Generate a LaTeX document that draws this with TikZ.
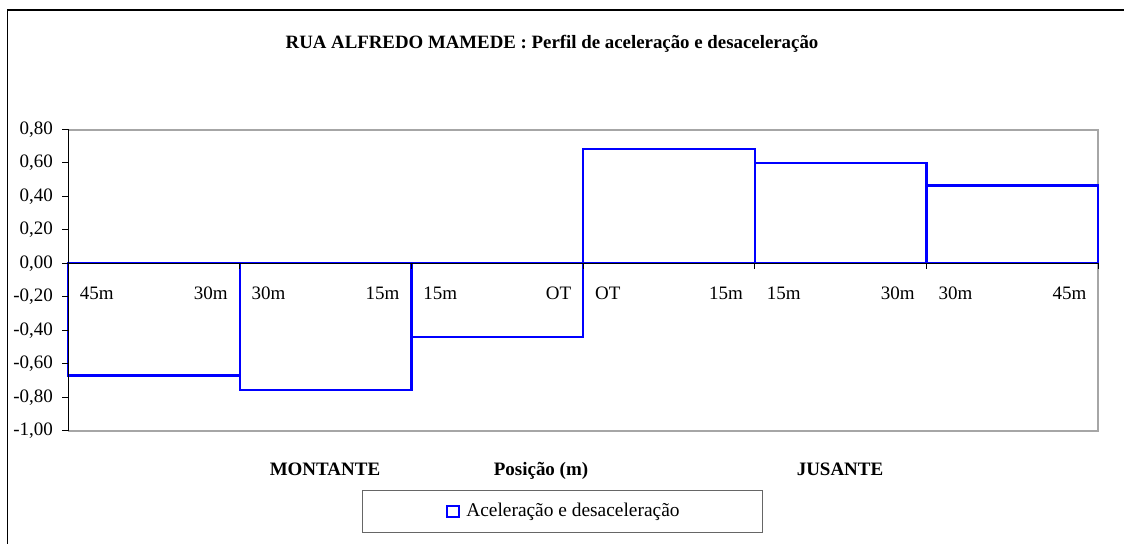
\documentclass[tikz,border=0pt]{standalone}
\usepackage{fontspec}
\setmainfont{Liberation Serif}

\begin{document}
\begin{tikzpicture}[x=0.025cm, y=-0.025cm, font=\fontsize{13.5}{16}\selectfont]
\useasboundingbox (0,0) rectangle (1124,544);

% Outer frame (cut at right and bottom)
\draw[line width=0.9pt] (7.5,544) -- (7.5,10) -- (1124,10);

% Title
\node[anchor=base, font=\fontsize{13.4}{16}\selectfont\bfseries] (title) at (552,49)
    {RUA ALFREDO MAMEDE : Perfil de aceleração e desaceleração};

% Plot area
\draw[gray!70, line width=0.8pt] (68,130) -- (1098,130) -- (1098,431) -- (68,431);

\begin{scope}[shift={(68,263.3)}, x=4.2917cm, y=4.1875cm]
% Data: one box per stretch
\foreach \v [count=\i from 0] in {-0.67,-0.755,-0.438,0.68,0.60,0.465}
    \draw[blue, line width=1.6pt] (\i,0) rectangle (\i+1,\v);

% Value axis
\draw[line width=0.6pt] (0,-1) -- (0,0.8);
\foreach \t/\lab in {0.8/0{,}80, 0.6/0{,}60, 0.4/0{,}40, 0.2/0{,}20, 0/0{,}00,
    -0.2/-0{,}20, -0.4/-0{,}40, -0.6/-0{,}60, -0.8/-0{,}80, -1/-1{,}00}
{
    \draw[line width=0.6pt] (0,\t) -- ++(-4.3pt,0);
    \node[anchor=east, inner sep=0pt, xshift=-10.6pt] (ylab) at (0,\t) {\lab};
}

% Category axis
\draw[line width=0.8pt] (0,0) -- (6,0);
\foreach \i in {0,...,6}
    \draw[line width=0.6pt] (\i,0) -- ++(0,-4.3pt);

% Distance labels
\foreach \a/\b [count=\i from 0] in {45m/30m, 30m/15m, 15m/OT, OT/15m, 15m/30m, 30m/45m}
{
    \node[anchor=west, xshift=5pt] (dl\i) at (\i,-0.177) {\a};
    \node[anchor=east, xshift=-5pt] (dr\i) at (\i+1,-0.177) {\b};
}
\end{scope}

% Axis titles
\node[anchor=base, font=\fontsize{13.5}{16}\selectfont\bfseries] (montante) at (325,475) {MONTANTE};
\node[anchor=base, font=\fontsize{13.5}{16}\selectfont\bfseries] (posicao) at (541,475) {Posição (m)};
\node[anchor=base, font=\fontsize{13.5}{16}\selectfont\bfseries] (jusante) at (840,475) {JUSANTE};

% Legend
\draw[gray!80!black, line width=0.7pt] (362,490) rectangle (762,532);
\draw[blue, line width=1.3pt] (447,506) rectangle (459,517);
\node[anchor=west, inner sep=0pt, font=\fontsize{13.8}{16}\selectfont] (legend) at (466,511.5)
    {Aceleração e desaceleração};
\end{tikzpicture}
\end{document}
